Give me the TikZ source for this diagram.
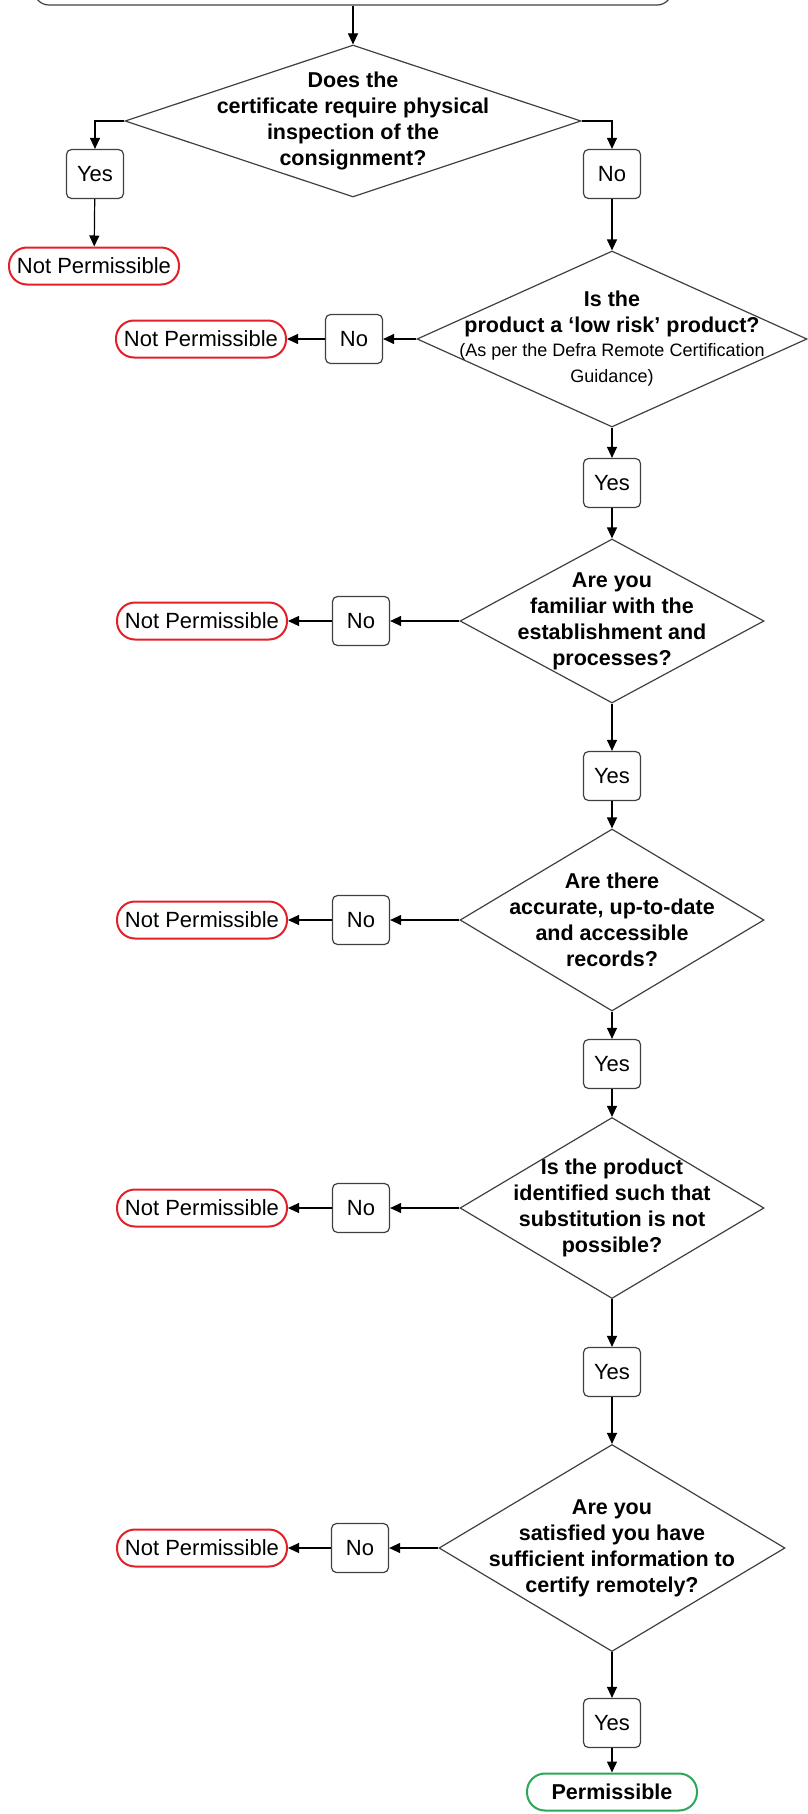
\documentclass[tikz,border=0pt]{standalone}
\usepackage{fontspec}
\setmainfont{Liberation Sans}
\usetikzlibrary{shapes.geometric,arrows.meta}
\definecolor{edge}{RGB}{64,64,64}
\definecolor{npred}{RGB}{226,32,40}
\definecolor{pgreen}{RGB}{40,168,88}
\tikzset{
  startbox/.style={draw=edge, rounded corners=15pt, minimum width=638pt, minimum height=70pt},
  question/.style={diamond, draw=edge, inner sep=0pt},
  qtext/.style={align=center, font=\fontsize{21.5}{26}\selectfont\bfseries},
  answer/.style={draw=edge, rounded corners=5pt, minimum width=57pt, minimum height=49pt,
    inner sep=0pt, font=\fontsize{22}{26}\selectfont},
  notok/.style={draw=npred, line width=2pt, rounded corners=18pt, minimum width=170pt,
    minimum height=37pt, inner sep=0pt, font=\fontsize{22}{26}\selectfont},
  okay/.style={notok, draw=pgreen, font=\fontsize{21.5}{26}\selectfont\bfseries},
}
\newcommand{\smalltext}{\fontsize{18}{23}\selectfont\mdseries}
\begin{document}
\begin{tikzpicture}[x=1pt, y=-1pt, line width=1.2pt, >={Triangle[length=11pt,width=10pt]}]
\useasboundingbox (0,0) rectangle (808,1814);

\node[startbox] (start) at (353,-30) {};

% physical inspection
\node[question, minimum width=456pt, minimum height=152pt] (inspect) at (353,121) {};
\node[qtext] (inspect-q) at (inspect) {Does the\\certificate require physical\\inspection of the\\consignment?};
\node[answer] (yes1) at (95,174) {Yes};
\node[notok] (np1) at (94,266) {Not Permissible};
\node[answer] (no1) at (612,174) {No};

% low risk product
\node[question, minimum width=390pt, minimum height=176pt] (lowrisk) at (612,339) {};
\node[qtext] (lowrisk-q) at (612,339) {Is the\\product a ‘low risk’ product?\\[-2pt]
  \smalltext (As per the Defra Remote Certification\\ \smalltext Guidance)};
\node[answer] (no2) at (354,339) {No};
\node[notok] (np2) at (201,339) {Not Permissible};
\node[answer] (yes2) at (612,483) {Yes};

% establishment
\node[question, minimum width=304pt, minimum height=164pt] (familiar) at (612,621) {};
\node[qtext] (familiar-q) at (familiar) {Are you\\familiar with the\\establishment and\\processes?};
\node[answer] (no3) at (361,621) {No};
\node[notok] (np3) at (202,621) {Not Permissible};
\node[answer] (yes3) at (612,776) {Yes};

% records
\node[question, minimum width=304pt, minimum height=182pt] (records) at (612,920) {};
\node[qtext] (records-q) at (records) {Are there\\accurate, up-to-date\\and accessible\\records?};
\node[answer] (no4) at (361,920) {No};
\node[notok] (np4) at (202,920) {Not Permissible};
\node[answer] (yes4) at (612,1064) {Yes};

% identification
\node[question, minimum width=304pt, minimum height=181pt] (identified) at (612,1208) {};
\node[qtext] (identified-q) at (identified) {Is the product\\identified such that\\substitution is not\\possible?};
\node[answer] (no5) at (361,1208) {No};
\node[notok] (np5) at (202,1208) {Not Permissible};
\node[answer] (yes5) at (612,1372) {Yes};

% sufficient information
\node[question, minimum width=346pt, minimum height=207pt] (satisfied) at (612,1548) {};
\node[qtext] (satisfied-q) at (satisfied) {Are you\\satisfied you have\\sufficient information to\\certify remotely?};
\node[answer] (no6) at (360,1548) {No};
\node[notok] (np6) at (202,1548) {Not Permissible};
\node[answer] (yes6) at (612,1723) {Yes};
\node[okay] (perm) at (612,1792) {Permissible};

\draw[->] (start.south) -- (inspect.north);
\draw[->] (inspect.west) -| (yes1.north);
\draw[->] (yes1) -- (np1);
\draw[->] (inspect.east) -| (no1.north);
\draw[->] (no1) -- (lowrisk.north);

\draw[->] (lowrisk.west) -- (no2.east);
\draw[->] (no2.west) -- (np2.east);
\draw[->] (lowrisk.south) -- (yes2.north);
\draw[->] (yes2) -- (familiar.north);

\draw[->] (familiar.west) -- (no3.east);
\draw[->] (no3.west) -- (np3.east);
\draw[->] (familiar.south) -- (yes3.north);
\draw[->] (yes3) -- (records.north);

\draw[->] (records.west) -- (no4.east);
\draw[->] (no4.west) -- (np4.east);
\draw[->] (records.south) -- (yes4.north);
\draw[->] (yes4) -- (identified.north);

\draw[->] (identified.west) -- (no5.east);
\draw[->] (no5.west) -- (np5.east);
\draw[->] (identified.south) -- (yes5.north);
\draw[->] (yes5) -- (satisfied.north);

\draw[->] (satisfied.west) -- (no6.east);
\draw[->] (no6.west) -- (np6.east);
\draw[->] (satisfied.south) -- (yes6.north);
\draw[->] (yes6) -- (perm);
\end{tikzpicture}
\end{document}
